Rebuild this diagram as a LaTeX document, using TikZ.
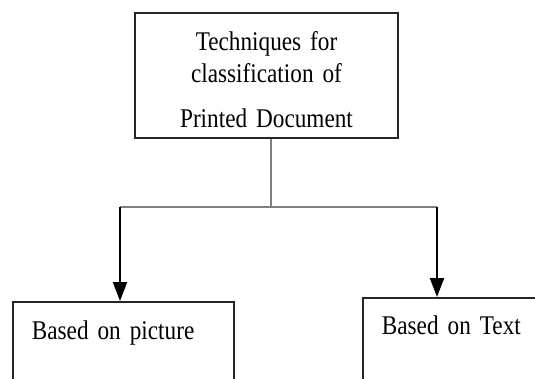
\documentclass[tikz,border=0pt]{standalone}
\usepackage{fontspec}
\setmainfont{Liberation Serif}[FakeStretch=0.86, WordSpace=0.8]
\usepackage{tikz}
\usetikzlibrary{arrows.meta}
\tikzset{box/.style={draw=black!85, line width=1.8pt, rectangle, inner ysep=0pt},
    link/.style={draw=black!50, line width=2.2pt},
    arrow/.style={draw=black, line width=2.2pt, -{Triangle[width=14pt,length=19pt]}}}

\begin{document}
\begin{tikzpicture}[x=1pt,y=-1pt,
        every node/.style={font=\fontsize{27}{32}\selectfont}]
    \useasboundingbox (0,0) rectangle (535,379);
    \clip (0,0) rectangle (535,379);
        \node[box, anchor=north, inner xsep=0pt, text width=263pt, align=center,
            text height=38pt, text depth=87pt] (doc) at (266.5,12)
            {Techniques for\\ classification of\\[13pt] Printed Document};
        \node[box, anchor=north west, inner xsep=19pt, text width=183pt, align=left,
            text height=38pt, text depth=120pt] (pic) at (12,301) {Based on picture};
        \node[box, anchor=north west, inner xsep=19pt, text width=212pt, align=left,
            text height=37pt, text depth=120pt] (txt) at (362,297) {Based on Text};
        \coordinate (split) at (271,207);
        \coordinate (picTop) at ([xshift=108pt]pic.north west);
        \coordinate (txtTop) at ([xshift=75pt]txt.north west);
        \draw[link] (doc.south -| split) -- (split);
        \draw[link] (split -| picTop) -- (split -| txtTop);
        \draw[arrow] (split -| picTop) -- (picTop);
        \draw[arrow] (split -| txtTop) -- (txtTop);
    \end{tikzpicture}
\end{document}
